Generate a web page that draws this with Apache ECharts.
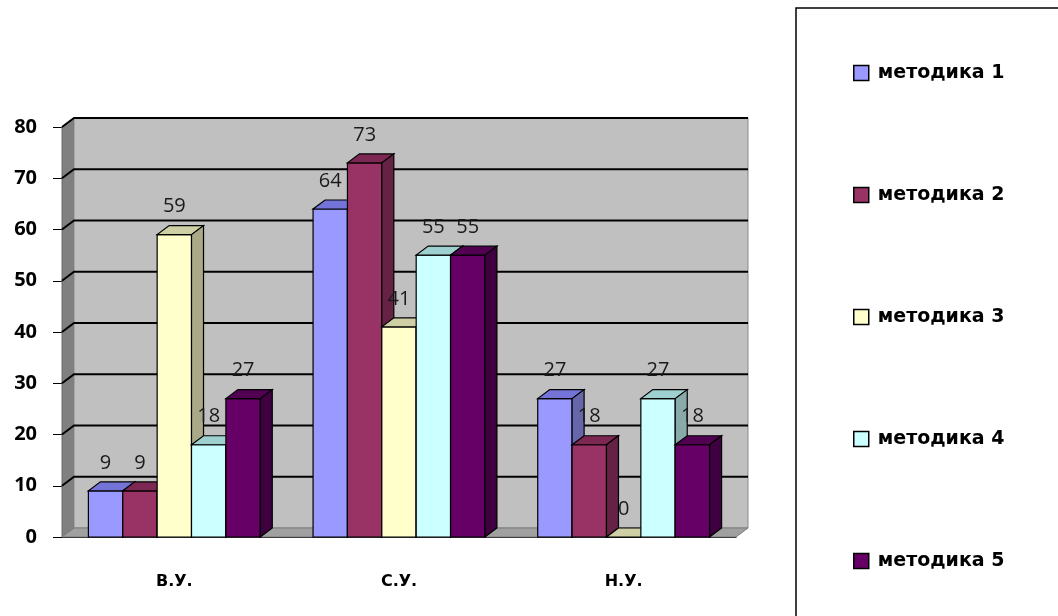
<!DOCTYPE html>
<html>
<head>
<meta charset="utf-8">
<script src="https://cdn.jsdelivr.net/npm/echarts@6/dist/echarts.min.js"></script>
<style>
    html, body { margin: 0; padding: 0; background: #fff; }
    #chart { width: 1058px; height: 616px; }
</style>
</head>
<body>
<div id="chart"></div>
<script>
// данные
const categories = ['В.У.', 'С.У.', 'Н.У.'];
const methodNames = ['методика 1', 'методика 2', 'методика 3', 'методика 4', 'методика 5'];
const metod1 = [9, 64, 27];
const metod2 = [9, 73, 18];
const metod3 = [59, 41, 0];
const metod4 = [18, 55, 27];
const metod5 = [27, 55, 18];
const yMin = 0, yMax = 80, yStep = 10;

const allValues = [metod1, metod2, metod3, metod4, metod5];
// front / top / side colours
const palette = [
    ['#9999ff', '#7474d8', '#6666a8'],
    ['#993366', '#7c2852', '#662244'],
    ['#ffffcc', '#cfcfa6', '#a9a988'],
    ['#ccffff', '#9fd0d0', '#88aaaa'],
    ['#660066', '#520052', '#3e003e']
];
const DX = 12, DY = 9;
const FONT = '"Open Sans", Lato, sans-serif';
const WIDE = '"DejaVu Sans", "Open Sans", sans-serif';

const chart = echarts.init(document.getElementById('chart'));

function renderWalls(params, api) {
    const cs = params.coordSys;
    const x0 = cs.x, x1 = cs.x + cs.width;
    const yt = cs.y, yb = cs.y + cs.height;
    const kids = [
        { type: 'polygon', shape: { points: [[x0, yb], [x0, yt], [x0 + DX, yt - DY], [x0 + DX, yb - DY]] },
          style: { fill: '#808080', stroke: '#6a6a6a', lineWidth: 1 } },
        { type: 'rect', shape: { x: x0 + DX, y: yt - DY, width: cs.width, height: cs.height } ,
          style: { fill: '#c0c0c0', stroke: '#8a8a8a', lineWidth: 1 } },
        { type: 'polygon', shape: { points: [[x0, yb], [x1, yb], [x1 + DX, yb - DY], [x0 + DX, yb - DY]] },
          style: { fill: '#a0a0a0', stroke: '#7a7a7a', lineWidth: 1 } }
    ];
    for (let v = yMin + yStep; v <= yMax; v += yStep) {
        const y = api.coord([0, v])[1];
        kids.push({ type: 'polyline', shape: { points: [[x0, y], [x0 + DX, y - DY], [x1 + DX, y - DY]] },
            style: { stroke: '#000', lineWidth: 2, fill: null } });
    }
    return { type: 'group', children: kids };
}

function makeBarRenderer(k) {
    return function (params, api) {
        const ci = api.value(0);
        const v = api.value(1);
        const base = api.coord([ci, 0]);
        const top = api.coord([ci, v]);
        const band = api.size([1, 0])[0];
        const bw = band * 0.153;
        const x0 = base[0] - 2.5 * bw + k * bw;
        const x1 = x0 + bw;
        const yb = base[1], yt = top[1];
        const c = palette[k];
        const line = { stroke: '#000', lineWidth: 1.2 };
        return {
            type: 'group',
            children: [
                { type: 'rect', shape: { x: x0, y: yt, width: bw, height: yb - yt },
                  style: Object.assign({ fill: c[0] }, line) },
                { type: 'polygon', shape: { points: [[x0, yt], [x1, yt], [x1 + DX, yt - DY], [x0 + DX, yt - DY]] },
                  style: Object.assign({ fill: c[1] }, line) },
                { type: 'polygon', shape: { points: [[x1, yt], [x1 + DX, yt - DY], [x1 + DX, yb - DY], [x1, yb]] },
                  style: Object.assign({ fill: c[2] }, line) },
                { type: 'text', x: x0 + bw / 2, y: yt - 28, z2: 100,
                  style: { text: String(v), align: 'center', verticalAlign: 'middle',
                           font: '20px ' + FONT, fill: '#1a1a1a' } }
            ]
        };
    };
}

const series = [{
    type: 'custom',
    name: 'walls',
    z: 1,
    silent: true,
    renderItem: renderWalls,
    data: [[0, 0]]
}];
allValues.forEach((vals, k) => {
    series.push({
        type: 'custom',
        name: methodNames[k],
        z: 2,
        itemStyle: { color: palette[k][0] },
        renderItem: makeBarRenderer(k),
        data: vals.map((v, i) => [i, v])
    });
});

const option = {
    backgroundColor: '#fff',
    animation: false,
    grid: { left: 62, right: 322, top: 127, bottom: 79 },
    xAxis: {
        type: 'category',
        data: categories,
        axisLine: { lineStyle: { color: '#000', width: 1 } },
        axisTick: { length: 10, lineStyle: { color: '#000' } },
        axisLabel: { margin: 37, color: '#000', fontFamily: WIDE, fontWeight: 'bold', fontSize: 16 },
        splitLine: { show: false }
    },
    yAxis: {
        type: 'value',
        min: yMin, max: yMax, interval: yStep,
        axisLine: { show: true, lineStyle: { color: '#000', width: 1 } },
        axisTick: { show: true, length: 9, lineStyle: { color: '#000' } },
        axisLabel: { margin: 25, color: '#000', fontFamily: FONT, fontWeight: 'bold', fontSize: 20 },
        splitLine: { show: false }
    },
    legend: {
        data: methodNames,
        orient: 'vertical',
        left: 848,
        top: 58,
        itemWidth: 15,
        itemHeight: 15,
        itemGap: 102,
        icon: 'rect',
        itemStyle: { borderColor: '#000', borderWidth: 1.5 },
        textStyle: { color: '#000', fontFamily: WIDE, fontWeight: 'bold', fontSize: 19, lineHeight: 20, padding: [0, 0, 0, 4] }
    },
    graphic: [{
        type: 'rect',
        z: -1,
        shape: { x: 796, y: 8, width: 320, height: 700 },
        style: { fill: '#fff', stroke: '#000', lineWidth: 1.5 }
    }],
    series: series
};
chart.setOption(option);
</script>
</body>
</html>
